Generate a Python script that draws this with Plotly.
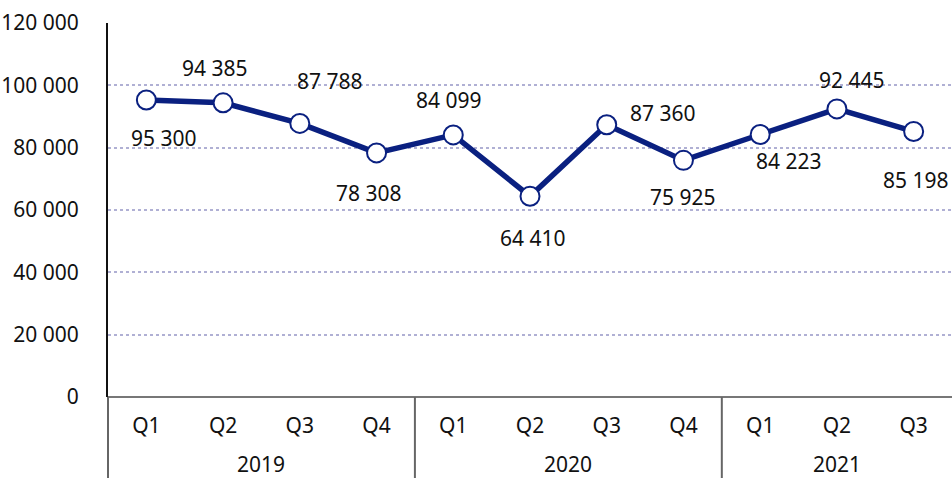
import plotly.graph_objects as go

years = ["2019", "2019", "2019", "2019", "2020", "2020", "2020", "2020", "2021", "2021", "2021"]
quarters = ["Q1", "Q2", "Q3", "Q4", "Q1", "Q2", "Q3", "Q4", "Q1", "Q2", "Q3"]
values = [95300, 94385, 87788, 78308, 84099, 64410, 87360, 75925, 84223, 92445, 85198]
value_labels = ["95 300", "94 385", "87 788", "78 308", "84 099", "64 410",
                "87 360", "75 925", "84 223", "92 445", "85 198"]
y_ticks = [0, 20000, 40000, 60000, 80000, 100000, 120000]
y_tick_labels = ["0", "20 000", "40 000", "60 000", "80 000", "100 000", "120 000"]

# label pixel offsets (style)
label_dx = [18, -8, 30, -8, -4, 3, 56, 0, 29, 15, 2]
label_dy = [-38, 35, 42, -40, 35, -42, 12, -37, -26, 29, -49]

NAVY = "#0a2080"
FONT = "Noto Sans"
FS = 21
n = len(values)
xs = list(range(n))

fig = go.Figure()
fig.add_trace(go.Scatter(
    x=xs, y=values, mode="lines+markers",
    line=dict(color=NAVY, width=5.5),
    marker=dict(size=19, color="white", line=dict(color=NAVY, width=2)),
    hoverinfo="skip", cliponaxis=False,
))

for i in range(n):
    fig.add_annotation(x=xs[i], y=values[i], text=value_labels[i], showarrow=False,
                       xshift=label_dx[i], yshift=label_dy[i],
                       font=dict(family=FONT, size=FS, color="#111111"))

# year groups & dividers
groups = []
for i, yv in enumerate(years):
    if not groups or groups[-1][0] != yv:
        groups.append([yv, i, i])
    else:
        groups[-1][2] = i
for yv, a, b in groups:
    fig.add_annotation(x=(a + b) / 2, y=0, yref="paper", yshift=-67, yanchor="middle",
                       text=yv, showarrow=False,
                       font=dict(family=FONT, size=FS, color="#111111"))
    fig.add_shape(type="line", xref="paper", yref="paper",
                  x0=a / n, x1=a / n, y0=0, y1=-0.3,
                  line=dict(color="#666666", width=2))

fig.update_layout(
    width=952, height=478,
    margin=dict(l=108, r=0, t=23, b=81),
    paper_bgcolor="white", plot_bgcolor="white",
    showlegend=False,
    font=dict(family=FONT, size=FS, color="#111111"),
    xaxis=dict(range=[-0.5, n - 0.5], tickvals=xs, ticktext=quarters,
               showgrid=False, zeroline=False, showline=False, ticks="",
               ticklabelstandoff=14, fixedrange=True, automargin=False),
    yaxis=dict(range=[0, 120000], tickvals=y_ticks, ticktext=y_tick_labels,
               showgrid=True, gridcolor="#b0b0d4", griddash="dot", gridwidth=1.5,
               zeroline=True, zerolinecolor="#777777", zerolinewidth=2,
               showline=True, linecolor="#111111", linewidth=2,
               ticks="", ticklabelstandoff=23, fixedrange=True, automargin=False),
)

fig.write_html("out.html", config={"displayModeBar": False},
               post_script="document.body.style.margin='0';document.body.style.overflow='hidden';")
